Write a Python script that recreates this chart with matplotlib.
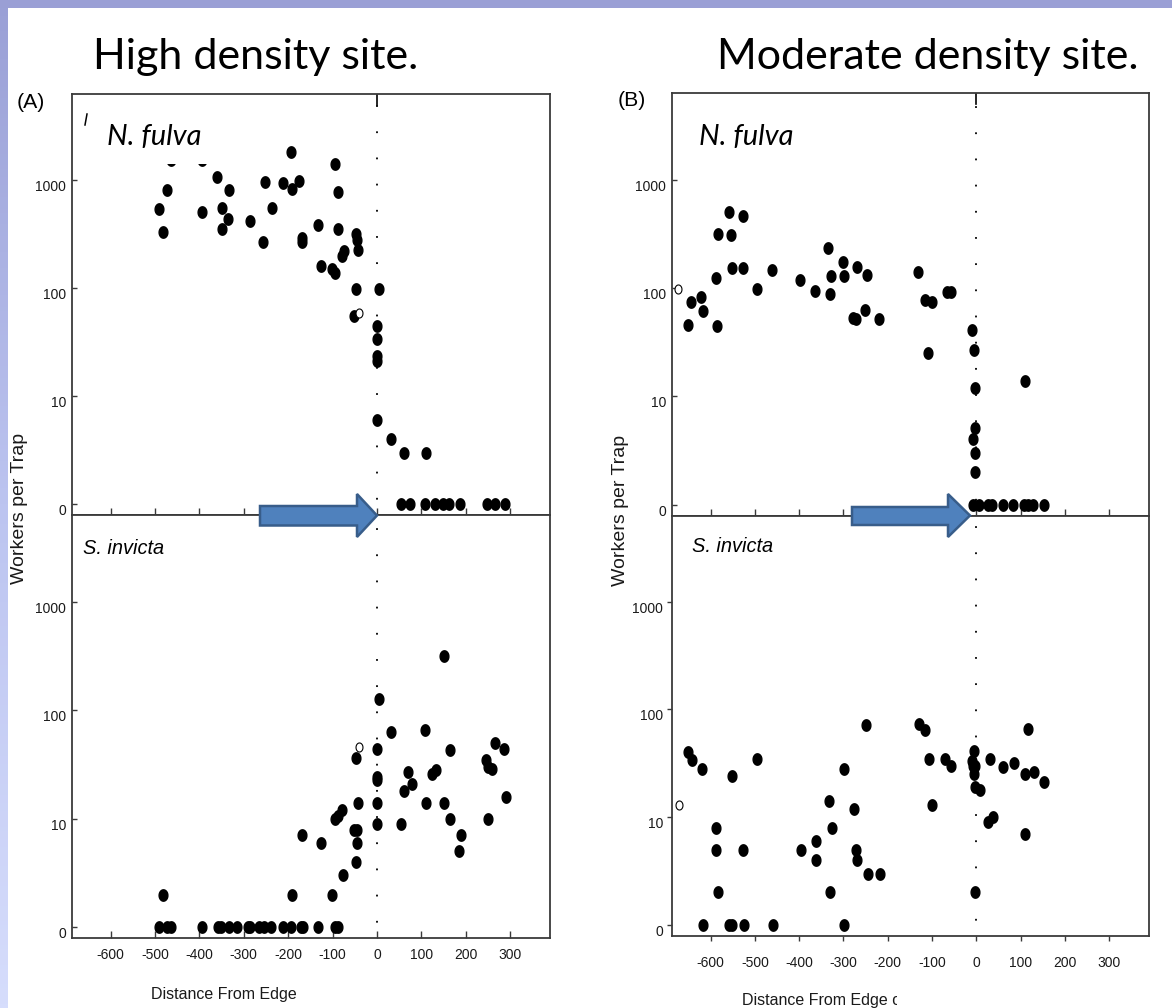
import numpy as np
import matplotlib
matplotlib.use('Agg')
import matplotlib.pyplot as plt
from matplotlib.patches import Polygon, Rectangle
from matplotlib.lines import Line2D
from matplotlib.ticker import NullLocator
from matplotlib.transforms import Bbox, TransformedBbox
from matplotlib.colors import LinearSegmentedColormap
from matplotlib import font_manager

plt.rcParams['axes.unicode_minus'] = False

# --- data (workers per trap, 0 = empty trap) ---
a_nf_x = [-492, -482, -472, -463, -393, -394, -360, -350, -349, -333, -336, -287, -257, -253,
          -237, -212, -193, -192, -176, -169, -169, -132, -125, -101, -94, -94, -88, -88,
          -75, -78, -46, -44, -42, -46, -51, 5, 1, 0, 0, 0, 0, 32, 62, 111,
          54, 75, 109, 131, 149, 163, 188, 248, 265, 288]
a_nf_y = [544, 333, 820, 1540, 1540, 510, 1075, 556, 355, 820, 440, 418, 270, 973,
          556, 938, 1850, 832, 987, 270, 295, 384, 162, 152, 139, 1418, 774, 355,
          222, 198, 316, 282, 225, 97.5, 55, 99, 45, 34, 23.5, 21, 6, 4.06, 3, 3,
          0, 0, 0, 0, 0, 0, 0, 0, 0, 0]
a_nf_open_x = [-40]
a_nf_open_y = [59]

a_si_x = [-482, -492, -472, -463, -393, -359, -351, -334, -316, -291, -287, -266, -255, -238,
          -212, -193, -170, -167, -132, -95, -88, -192, -101, -169, -125, -76, -48, -44,
          -51, -44, -42, -95, -88, -79, -48, 1, 0, 0, 0, 0, 5, 31, 152, 109,
          165, 265, 286, 246, 250, 259, 71, 125, 133, 78, 61, 111, 152, 290,
          54, 165, 250, 189, 186]
a_si_y = [2, 0, 0, 0, 0, 0, 0, 0, 0, 0, 0, 0, 0, 0,
          0, 0, 0, 0, 0, 0, 0, 2, 2, 7, 6, 3, 4, 6,
          7.9, 7.9, 14, 10, 10.7, 12, 36, 44, 24, 22.6, 14, 9, 126, 63, 316, 66,
          43, 50, 44, 35, 30, 29, 27, 26, 28, 21, 18, 14, 14, 16,
          9, 10, 10, 7, 5]
a_si_open_x = [-40]
a_si_open_y = [46]

b_nf_x = [-651, -644, -621, -617, -588, -586, -584, -558, -553, -552, -527, -526, -496, -462,
          -397, -363, -334, -331, -327, -300, -298, -269, -246, -279, -271, -251, -220,
          -131, -116, -100, -108, -67, -56, -9, -4, -2, -2, -7, -2, -2, 110,
          -7, 7, 26, 35, 60, 84, 107, 116, 128, 152]
b_nf_y = [46, 74, 83, 61, 123, 45, 316, 509, 308, 154, 468, 154, 98, 148,
          119, 95, 234, 88, 130, 175, 130, 156, 132, 52.5, 51.5, 63, 52,
          141, 78, 74, 25, 93, 93, 41, 27, 12, 5.1, 4, 3, 2, 14,
          0, 0, 0, 0, 0, 0, 0, 0, 0, 0]
b_nf_open_x = [-673]
b_nf_open_y = [99]

b_si_x = [-651, -642, -620, -587, -587, -583, -616, -558, -551, -525, -460, -298,
          -551, -526, -494, -395, -362, -362, -333, -326, -331, -298, -277, -271, -269,
          -244, -218, -250, -130, -115, -107, -99, -71, -56, -4.5, -10, -7, -2, -4.5,
          -3.6, 9, -3, 31, 26, 38.5, 117, 61, 85.5, 109, 130, 153, 110]
b_si_y = [40.5, 34, 28, 7.9, 5, 2, 0, 0, 0, 0, 0, 0,
          24, 5, 35, 5, 6, 4, 14, 8, 2, 28, 12, 5, 4,
          3, 3, 71, 74, 64, 35, 13, 35, 30, 41, 33, 30, 30, 25,
          19, 18, 2, 35, 9, 10, 66, 29, 32, 25, 26, 21, 7]
b_si_open_x = [-672]
b_si_open_y = [13]

ytick_vals = [1, 10, 100, 1000]
ytick_labels = ['0', '10', '100', '1000']
xtick_vals = [-600, -500, -400, -300, -200, -100, 0, 100, 200, 300]

# --- fonts ---
names = {f.name for f in font_manager.fontManager.ttflist}
if 'Liberation Sans Narrow' in names:
    NARROW, NS = 'Liberation Sans Narrow', 1.0
else:
    NARROW, NS = 'Liberation Sans', 0.9
TITLE_FONT = 'Lato' if 'Lato' in names else 'DejaVu Sans'

W, H = 1172, 1008
fig = plt.figure(figsize=(W / 100, H / 100), dpi=100, facecolor='white')


def px_rect(x0, y0, x1, y1):
    return [x0 / W, 1 - y1 / H, (x1 - x0) / W, (y1 - y0) / H]


def fx(x):
    return x / W


def fy(y):
    return 1 - y / H


# slide decoration: lavender strips
bg = fig.add_axes(px_rect(0, 0, 7, H), zorder=-5)
cmap = LinearSegmentedColormap.from_list('lav', ['#9aa0d6', '#bcc4f0', '#d6ddfc'])
bg.imshow(np.linspace(0, 1, 256).reshape(-1, 1), aspect='auto', cmap=cmap)
bg.axis('off')
fig.add_artist(Rectangle((0, fy(8)), 1, 8 / H, transform=fig.transFigure,
                         facecolor='#9a9fd5', edgecolor='none', zorder=-4))

# oval marker (chart was squeezed horizontally)
t = np.linspace(0, 2 * np.pi, 60)
oval = np.column_stack([0.77 * np.cos(t), np.sin(t)])

spine_c = '#3a3a3a'
tick_size = 11 * NS if NS == 1.0 else 10


def draw_panel(ax, x, y, ox, oy, top, direction, xlabels):
    ax.set_yscale('log')
    yp = np.where(np.asarray(y, dtype=float) == 0, 1, y)
    ax.plot(x, yp, ls='none', marker=oval, ms=8.2, mfc='black', mec='black', zorder=3)
    ax.plot(ox, oy, ls='none', marker=oval, ms=6.5, mfc='white', mec='black',
            mew=0.8, zorder=4)
    ax.axvline(0, color='black', lw=1.3, ls=(6, (1, 13.5)), zorder=2)
    if top:
        ax.axvline(0, ymin=0.974, ymax=1, color='black', lw=1.2)
    ax.set_xlim(-687, 390)
    ax.set_ylim(10 ** -0.1, 10 ** 3.8)
    ax.set_yticks(ytick_vals)
    ax.set_yticklabels(ytick_labels)
    ax.yaxis.set_minor_locator(NullLocator())
    ax.set_xticks(xtick_vals)
    for s in ax.spines.values():
        s.set_color(spine_c)
        s.set_linewidth(1.3)
    ax.tick_params(axis='both', direction=direction, color=spine_c, width=1.0,
                   labelsize=tick_size, labelfontfamily=NARROW, labelcolor='#1a1a1a')
    ax.tick_params(axis='y', length=3.4, pad=4.3 if direction == 'in' else 3)
    ax.tick_params(axis='x', length=5 if direction == 'in' else 3.4,
                   pad=7 if direction == 'in' else 11, labelbottom=xlabels)
    for tk in ax.yaxis.get_major_ticks():
        tk.label1.set_verticalalignment('top')


axA_top = fig.add_axes(px_rect(72, 94, 550, 515))
axA_bot = fig.add_axes(px_rect(72, 515, 550, 938))
axB_top = fig.add_axes(px_rect(672, 93.3, 1149, 515.5))
axB_bot = fig.add_axes(px_rect(672, 515.5, 1149, 935.7))

draw_panel(axA_top, a_nf_x, a_nf_y, a_nf_open_x, a_nf_open_y, True, 'in', False)
draw_panel(axA_bot, a_si_x, a_si_y, a_si_open_x, a_si_open_y, False, 'in', True)
draw_panel(axB_top, b_nf_x, b_nf_y, b_nf_open_x, b_nf_open_y, True, 'in', False)
draw_panel(axB_bot, b_si_x, b_si_y, b_si_open_x, b_si_open_y, False, 'out', True)

# white box covering the old species label in panel A
axA_top.add_patch(Rectangle((0.0335, 0.8337), 0.3175, 0.16, transform=axA_top.transAxes,
                            facecolor='white', edgecolor='none', zorder=5))
fig.add_artist(Line2D([fx(85), fx(87)], [fy(125), fy(114)], color='black', lw=1.1))

# titles
fig.text(fx(256), fy(69), 'High density site.', fontsize=31, family=TITLE_FONT,
         ha='center', va='baseline')
fig.text(fx(928), fy(69), 'Moderate density site.', fontsize=31, family=TITLE_FONT,
         ha='center', va='baseline')
fig.text(fx(17), fy(103), '(A)', fontsize=17 * NS, family=NARROW, ha='left', va='center')
fig.text(fx(618), fy(100), '(B)', fontsize=17 * NS, family=NARROW, ha='left', va='center')

# species labels
for xl, yl in [(107, 145), (699, 145)]:
    fig.text(fx(xl), fy(yl), 'N. fulva', fontsize=21, family=TITLE_FONT, style='italic',
             ha='left', va='baseline', zorder=6)
for xl, yl in [(83, 554), (692, 552)]:
    fig.text(fx(xl), fy(yl), 'S. invicta', fontsize=16 * NS, family=NARROW, style='italic',
             ha='left', va='baseline')

# axis titles
for xl, yl in [(19.5, 508), (621, 510)]:
    fig.text(fx(xl), fy(yl), 'Workers per Trap', fontsize=14, family='Liberation Sans',
             rotation=90, ha='center', va='center', color='#1a1a1a')
xl_size = 13 * NS if NS == 1.0 else 11.5
fig.text(fx(224), fy(995), 'Distance From Edge', fontsize=xl_size, family=NARROW,
         ha='center', va='center', color='#1a1a1a')
xl_b = fig.text(fx(741.6), fy(1000), 'Distance From Edge of Invasion', fontsize=xl_size,
                family=NARROW, ha='left', va='center', color='#1a1a1a')

# clip the second label part way through the "o", as on the slide
renderer = fig.canvas.get_renderer()
probe = fig.text(0, 0, 'Distance From Edge o', fontsize=xl_size, family=NARROW)
probe_o = fig.text(0, 0, 'o', fontsize=xl_size, family=NARROW)
w_full = probe.get_window_extent(renderer).width
w_o = probe_o.get_window_extent(renderer).width
probe.remove()
probe_o.remove()
clip_x = 741.6 + w_full - 0.45 * w_o
xl_b.set_clip_box(TransformedBbox(Bbox([[0, 0], [fx(clip_x), 1]]), fig.transFigure))
xl_b.set_clip_on(True)

# block arrows pointing at the edge
for pts in ([(260, 506), (357, 506), (357, 494), (377, 515.5), (357, 537), (357, 525.5), (260, 525.5)],
            [(852, 507), (948, 507), (948, 494), (970, 515.5), (948, 537), (948, 525), (852, 525)]):
    fig.add_artist(Polygon([(fx(a), fy(b)) for a, b in pts], closed=True,
                           transform=fig.transFigure, facecolor='#4f81bd',
                           edgecolor='#385d8a', lw=1.8, zorder=5))

fig.savefig('out.png', dpi=100, facecolor='white')
